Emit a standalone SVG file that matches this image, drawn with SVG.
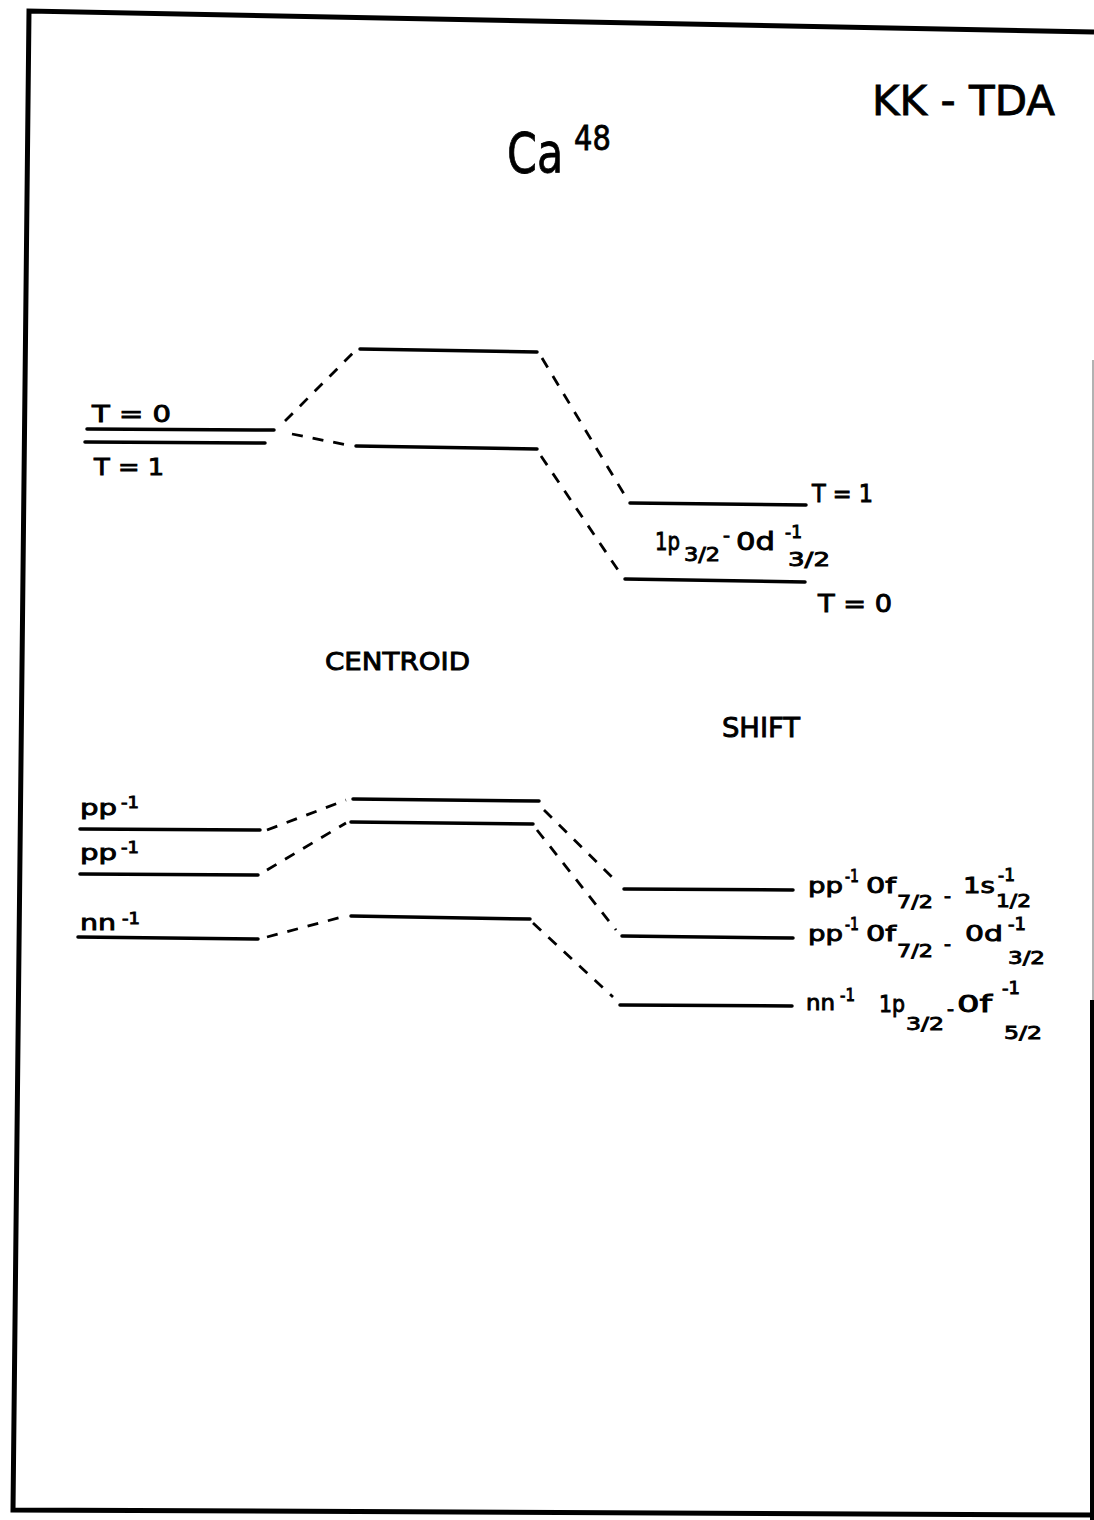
<svg xmlns="http://www.w3.org/2000/svg" width="1094" height="1520" viewBox="0 0 1094 1520">
<style>
.t{font-family:"DejaVu Sans","Liberation Sans",Arial,sans-serif;fill:#000;stroke:#000;stroke-width:0.9}
.n{font-family:"DejaVu Sans","Liberation Sans",Arial,sans-serif;fill:#000;stroke:#000;stroke-width:0.8}
.lv{stroke:#000;stroke-width:3.5;stroke-linecap:round;fill:none}
.cn{stroke:#000;stroke-width:2.8;stroke-dasharray:11 10;fill:none}
.bd{stroke:#000;stroke-width:5;fill:none;stroke-linejoin:miter}
</style>
<rect x="0" y="0" width="1094" height="1520" fill="#fff"/>
<g id="frame">
<path class="bd" d="M1094,32 L29,11 L13,1510 L1094,1515"/>
<path d="M1093,360 L1093,1000" stroke="#999" stroke-width="1.5" fill="none"/>
<path d="M1092,1000 L1092,1520" stroke="#000" stroke-width="4" fill="none"/>
</g>
<g id="title">
<text class="n" transform="translate(507,172) scale(0.78,1)" font-size="55">Ca</text>
<text class="n" transform="translate(574,150) scale(0.85,1)" font-size="34">48</text>
</g>
<g id="method">
<text class="n" x="872" y="115" font-size="41" stroke-width="1.2" textLength="183" lengthAdjust="spacingAndGlyphs">KK - TDA</text>
</g>
<g id="centroid-label"><text class="t" x="325" y="670" font-size="25" textLength="145" lengthAdjust="spacingAndGlyphs">CENTROID</text></g>
<g id="shift-label"><text class="t" x="722" y="737" font-size="27" textLength="78" lengthAdjust="spacingAndGlyphs">SHIFT</text></g>

<g id="connectors">
<path class="cn" d="M285,421 L353,353"/>
<path class="cn" d="M292,434 L347,445"/>
<path class="cn" d="M542,358 L624,494"/>
<path class="cn" d="M541,456 L620,573"/>
<path class="cn" d="M267,830 L346,800"/>
<path class="cn" d="M267,870 L346,823"/>
<path class="cn" d="M267,937 L342,917"/>
<path class="cn" d="M544,810 L618,883"/>
<path class="cn" d="M537,830 L616,930"/>
<path class="cn" d="M533,923 L613,997"/>
</g>

<g id="level-left-T0"><line class="lv" x1="87" y1="429" x2="274" y2="430"/>
<text class="t" x="92" y="422" font-size="23" textLength="79" lengthAdjust="spacingAndGlyphs">T = 0</text></g>
<g id="level-left-T1"><line class="lv" x1="85" y1="442" x2="265" y2="443"/>
<text class="t" x="94" y="475" font-size="23" textLength="70" lengthAdjust="spacingAndGlyphs">T = 1</text></g>
<g id="level-mid-upper"><line class="lv" x1="360" y1="349" x2="537" y2="352"/></g>
<g id="level-mid-lower"><line class="lv" x1="356" y1="446" x2="537" y2="449"/></g>
<g id="level-right-T1"><line class="lv" x1="630" y1="503" x2="806" y2="505"/>
<text class="t" x="812" y="502" font-size="24" textLength="61" lengthAdjust="spacingAndGlyphs">T = 1</text></g>
<g id="level-right-T0"><line class="lv" x1="625" y1="579" x2="805" y2="582"/>
<text class="t" x="818" y="612" font-size="24" textLength="74" lengthAdjust="spacingAndGlyphs">T = 0</text></g>
<g id="config-top">
<text class="t" x="655" y="550" font-size="25" textLength="25" lengthAdjust="spacingAndGlyphs">1p</text>
<text class="t" x="684" y="561" font-size="19" textLength="36" lengthAdjust="spacingAndGlyphs">3/2</text>
<text class="t" x="723" y="541" font-size="18" textLength="7" lengthAdjust="spacingAndGlyphs">-</text>
<text class="t" x="736" y="550" font-size="25" textLength="39" lengthAdjust="spacingAndGlyphs">0d</text>
<text class="t" x="785" y="538" font-size="17" textLength="17" lengthAdjust="spacingAndGlyphs">-1</text>
<text class="t" x="788" y="566" font-size="19" textLength="42" lengthAdjust="spacingAndGlyphs">3/2</text>
</g>

<g id="level-left-pp1"><line class="lv" x1="80" y1="829" x2="260" y2="830"/>
<text class="t" x="80" y="815" font-size="22" textLength="37" lengthAdjust="spacingAndGlyphs">pp</text>
<text class="t" x="121" y="808" font-size="16" textLength="18" lengthAdjust="spacingAndGlyphs">-1</text></g>
<g id="level-left-pp2"><line class="lv" x1="80" y1="874" x2="258" y2="875"/>
<text class="t" x="80" y="860" font-size="22" textLength="37" lengthAdjust="spacingAndGlyphs">pp</text>
<text class="t" x="121" y="853" font-size="16" textLength="18" lengthAdjust="spacingAndGlyphs">-1</text></g>
<g id="level-left-nn"><line class="lv" x1="78" y1="937" x2="258" y2="939"/>
<text class="t" x="80" y="930" font-size="22" textLength="36" lengthAdjust="spacingAndGlyphs">nn</text>
<text class="t" x="122" y="924" font-size="16" textLength="18" lengthAdjust="spacingAndGlyphs">-1</text></g>

<g id="level-mid-pp1"><line class="lv" x1="353" y1="799" x2="539" y2="801"/></g>
<g id="level-mid-pp2"><line class="lv" x1="351" y1="822" x2="533" y2="824"/></g>
<g id="level-mid-nn"><line class="lv" x1="351" y1="916" x2="530" y2="919"/></g>

<g id="level-right-pp-s"><line class="lv" x1="624" y1="889" x2="793" y2="890"/>
<text class="t" x="808" y="893" font-size="22" textLength="35" lengthAdjust="spacingAndGlyphs">pp</text>
<text class="t" x="845" y="882" font-size="17" textLength="14" lengthAdjust="spacingAndGlyphs">-1</text>
<text class="t" x="866" y="893" font-size="22" textLength="30" lengthAdjust="spacingAndGlyphs">0f</text>
<text class="t" x="897" y="908" font-size="18" textLength="36" lengthAdjust="spacingAndGlyphs">7/2</text>
<text class="t" x="944" y="903" font-size="19" textLength="7" lengthAdjust="spacingAndGlyphs">-</text>
<text class="t" x="963" y="893" font-size="22" textLength="32" lengthAdjust="spacingAndGlyphs">1s</text>
<text class="t" x="998" y="881" font-size="17" textLength="17" lengthAdjust="spacingAndGlyphs">-1</text>
<text class="t" x="996" y="907" font-size="18" textLength="35" lengthAdjust="spacingAndGlyphs">1/2</text></g>
<g id="level-right-pp-d"><line class="lv" x1="622" y1="936" x2="793" y2="938"/>
<text class="t" x="808" y="941" font-size="22" textLength="35" lengthAdjust="spacingAndGlyphs">pp</text>
<text class="t" x="845" y="930" font-size="17" textLength="14" lengthAdjust="spacingAndGlyphs">-1</text>
<text class="t" x="866" y="941" font-size="22" textLength="30" lengthAdjust="spacingAndGlyphs">0f</text>
<text class="t" x="897" y="957" font-size="18" textLength="36" lengthAdjust="spacingAndGlyphs">7/2</text>
<text class="t" x="944" y="951" font-size="19" textLength="7" lengthAdjust="spacingAndGlyphs">-</text>
<text class="t" x="965" y="941" font-size="22" textLength="38" lengthAdjust="spacingAndGlyphs">0d</text>
<text class="t" x="1008" y="930" font-size="17" textLength="18" lengthAdjust="spacingAndGlyphs">-1</text>
<text class="t" x="1008" y="964" font-size="18" textLength="37" lengthAdjust="spacingAndGlyphs">3/2</text></g>
<g id="level-right-nn"><line class="lv" x1="620" y1="1005" x2="792" y2="1006"/>
<text class="t" x="806" y="1010" font-size="22" textLength="29" lengthAdjust="spacingAndGlyphs">nn</text>
<text class="t" x="840" y="1001" font-size="17" textLength="15" lengthAdjust="spacingAndGlyphs">-1</text>
<text class="t" x="879" y="1012" font-size="23" textLength="26" lengthAdjust="spacingAndGlyphs">1p</text>
<text class="t" x="906" y="1030" font-size="18" textLength="38" lengthAdjust="spacingAndGlyphs">3/2</text>
<text class="t" x="947" y="1016" font-size="19" textLength="7" lengthAdjust="spacingAndGlyphs">-</text>
<text class="t" x="957" y="1012" font-size="23" textLength="35" lengthAdjust="spacingAndGlyphs">0f</text>
<text class="t" x="1002" y="994" font-size="17" textLength="18" lengthAdjust="spacingAndGlyphs">-1</text>
<text class="t" x="1004" y="1039" font-size="18" textLength="38" lengthAdjust="spacingAndGlyphs">5/2</text></g>
</svg>
